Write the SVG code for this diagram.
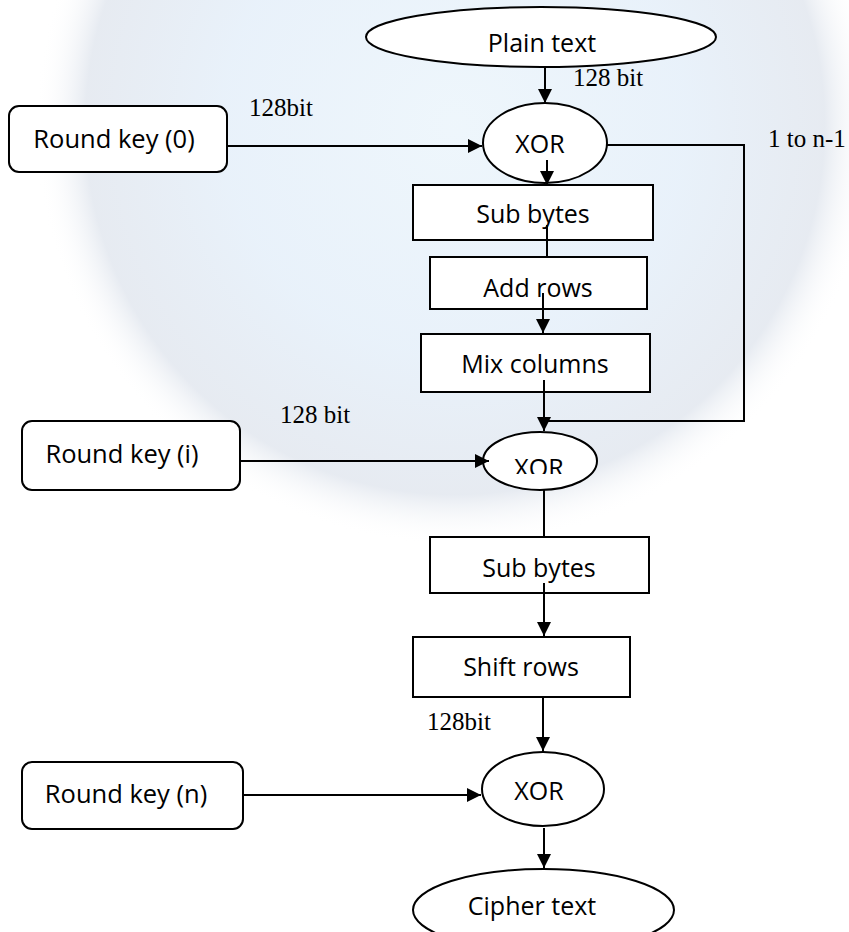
<svg xmlns="http://www.w3.org/2000/svg" width="849" height="932" viewBox="0 0 849 932">
  <style>
    .shape { fill: #ffffff; stroke: #000000; stroke-width: 2; }
    .lbl { font-family: "Open Sans", "Noto Sans", sans-serif; font-size: 25px; fill: #000000; text-anchor: middle; }
    .key { font-size: 25.5px; }
    .note { font-family: "Liberation Serif", "Times New Roman", serif; font-size: 25px; fill: #000000; }
    .conn { fill: none; stroke: #000000; stroke-width: 2; }
  </style>
  <defs>
    <marker id="arrow" markerUnits="userSpaceOnUse" markerWidth="14" markerHeight="14" viewBox="0 0 14 14" refX="14" refY="7" orient="auto">
      <path d="M0,0 L14,7 L0,14 z" fill="#000000"/>
    </marker>
    <radialGradient id="globe" cx="0.5" cy="0.5" r="0.5">
      <stop offset="0" stop-color="#eaf4fb" stop-opacity="1"/>
      <stop offset="0.55" stop-color="#e3eef9" stop-opacity="1"/>
      <stop offset="0.88" stop-color="#dde3ec" stop-opacity="0.9"/>
      <stop offset="1" stop-color="#ffffff" stop-opacity="0"/>
    </radialGradient>
    <clipPath id="xor2clip">
      <rect x="480" y="430" width="120" height="44"/>
    </clipPath>
  </defs>

  <rect x="0" y="0" width="849" height="932" fill="#ffffff"/>
  <g id="watermark" opacity="0.8">
    <circle cx="455" cy="125" r="420" fill="url(#globe)"/>
  </g>

  <g id="nodes">
    <g id="plain-text">
      <ellipse class="shape" cx="541" cy="37" rx="175" ry="30"/>
      <text class="lbl" x="542" y="52">Plain text</text>
    </g>
    <g id="round-key-0">
      <rect class="shape" x="9" y="106" width="218" height="66" rx="10"/>
      <text class="lbl key" x="114" y="148">Round key (0)</text>
    </g>
    <g id="xor-1">
      <ellipse class="shape" cx="545" cy="143" rx="62" ry="40"/>
      <text class="lbl" x="540" y="153">XOR</text>
    </g>
    <g id="sub-bytes-1">
      <rect class="shape" x="413" y="185" width="240" height="55"/>
      <text class="lbl" x="533" y="223">Sub bytes</text>
    </g>
    <g id="add-rows">
      <rect class="shape" x="430" y="257" width="217" height="52"/>
      <text class="lbl" x="538" y="297">Add rows</text>
    </g>
    <g id="mix-columns">
      <rect class="shape" x="421" y="334" width="229" height="58"/>
      <text class="lbl" x="535" y="373">Mix columns</text>
    </g>
    <g id="round-key-i">
      <rect class="shape" x="22" y="421" width="218" height="69" rx="10"/>
      <text class="lbl key" x="122" y="463">Round key (i)</text>
    </g>
    <g id="xor-2">
      <ellipse class="shape" cx="540" cy="461" rx="57" ry="29"/>
      <text class="lbl" x="539" y="477" clip-path="url(#xor2clip)">XOR</text>
    </g>
    <g id="sub-bytes-2">
      <rect class="shape" x="430" y="537" width="219" height="56"/>
      <text class="lbl" x="539" y="577">Sub bytes</text>
    </g>
    <g id="shift-rows">
      <rect class="shape" x="413" y="637" width="217" height="60"/>
      <text class="lbl" x="521" y="676">Shift rows</text>
    </g>
    <g id="round-key-n">
      <rect class="shape" x="22" y="762" width="221" height="67" rx="10"/>
      <text class="lbl key" x="126" y="803">Round key (n)</text>
    </g>
    <g id="xor-3">
      <ellipse class="shape" cx="543" cy="789" rx="61" ry="37"/>
      <text class="lbl" x="539" y="800">XOR</text>
    </g>
    <g id="cipher-text">
      <ellipse class="shape" cx="543.5" cy="910" rx="130.5" ry="41"/>
      <text class="lbl" x="532" y="915">Cipher text</text>
    </g>
  </g>

  <g id="connectors">
    <path class="conn" d="M545,66 V103" marker-end="url(#arrow)"/>
    <path class="conn" d="M227,146 H482" marker-end="url(#arrow)"/>
    <path class="conn" d="M607,145 H744 V421 H544"/>
    <path class="conn" d="M547,160 V185" marker-end="url(#arrow)"/>
    <path class="conn" d="M547,225 V257"/>
    <path class="conn" d="M543,293 V333" marker-end="url(#arrow)"/>
    <path class="conn" d="M544,380 V431" marker-end="url(#arrow)"/>
    <path class="conn" d="M240,461 H489" marker-end="url(#arrow)"/>
    <path class="conn" d="M544,490 V537"/>
    <path class="conn" d="M544,583 V636" marker-end="url(#arrow)"/>
    <path class="conn" d="M543,697 V751" marker-end="url(#arrow)"/>
    <path class="conn" d="M243,795 H481" marker-end="url(#arrow)"/>
    <path class="conn" d="M544,828 V868" marker-end="url(#arrow)"/>
  </g>

  <g id="labels">
    <text class="note" x="573" y="86">128 bit</text>
    <text class="note" x="249" y="116">128bit</text>
    <text class="note" x="768" y="147">1 to n-1</text>
    <text class="note" x="280" y="423">128 bit</text>
    <text class="note" x="427" y="730">128bit</text>
  </g>
</svg>
